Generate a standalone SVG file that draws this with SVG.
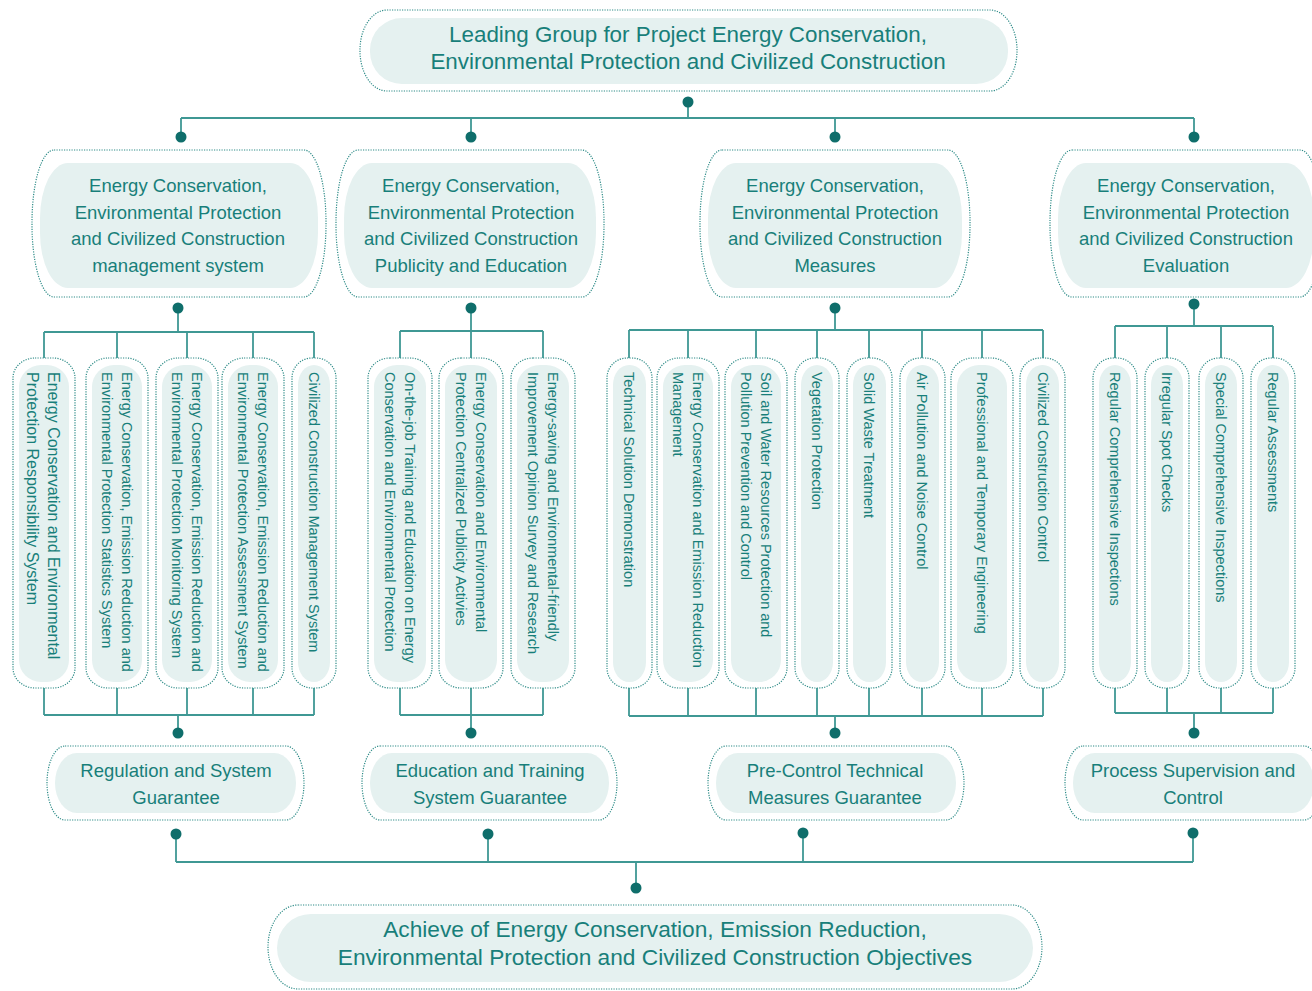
<svg xmlns="http://www.w3.org/2000/svg" width="1312" height="991" viewBox="0 0 1312 991">
<style>
.outer{fill:#ffffff;stroke:#2f8c88;stroke-width:1.2;stroke-dasharray:1.2 1.3}
.inner{fill:#e5f1f0}
.t{font-family:"Liberation Sans",Arial,sans-serif;fill:#187f7a;text-anchor:middle}
.t22{font-size:22.4px}
.t23{font-size:22.7px}
.t18{font-size:18.5px}
.v{font-family:"Liberation Sans",Arial,sans-serif;fill:#187f7a;font-size:14.5px;text-anchor:start}
.vb{font-size:16px}
.ln{stroke:#3f9894;stroke-width:1.8;fill:none}
.dot{fill:#0f6e6b}
</style>
<rect width="1312" height="991" fill="#ffffff"/>

<g id="connectors">
<path class="ln" d="M688 102V118M181 118H1194M181 118V137M471 118V137M835 118V137M1194 118V137"/>
<path class="ln" d="M178 308V332M44 332H314M44 332V358M117 332V358M187 332V358M253 332V358M314 332V358"/>
<path class="ln" d="M44 688V715M117 688V715M187 688V715M253 688V715M314 688V715M44 715H314M178 715V733"/>
<path class="ln" d="M471 308V331M400 331H543M400 331V358M471 331V358M543 331V358"/>
<path class="ln" d="M400 688V715M471 688V715M543 688V715M400 715H543M471 715V733"/>
<path class="ln" d="M835 308V330M629 330H1043M629 330V358M688 330V358M756 330V358M817 330V358M869 330V358M922 330V358M982 330V358M1043 330V358"/>
<path class="ln" d="M629 688V716M688 688V716M756 688V716M817 688V716M869 688V716M922 688V716M982 688V716M1043 688V716M629 716H1043M835 716V733"/>
<path class="ln" d="M1194 304V326M1115 326H1273M1115 326V358M1167 326V358M1221 326V358M1273 326V358"/>
<path class="ln" d="M1115 688V713M1167 688V713M1221 688V713M1273 688V713M1115 713H1273M1194 713V733"/>
<path class="ln" d="M176 834V862M488 834V862M803 833V862M1193 833V862M176 862H1193M636 862V888"/>
<circle class="dot" cx="688" cy="102" r="5.5"/>
<circle class="dot" cx="181" cy="137" r="5.5"/>
<circle class="dot" cx="471" cy="137" r="5.5"/>
<circle class="dot" cx="835" cy="137" r="5.5"/>
<circle class="dot" cx="1194" cy="137" r="5.5"/>
<circle class="dot" cx="178" cy="308" r="5.5"/>
<circle class="dot" cx="471" cy="308" r="5.5"/>
<circle class="dot" cx="835" cy="308" r="5.5"/>
<circle class="dot" cx="1194" cy="304" r="5.5"/>
<circle class="dot" cx="178" cy="733" r="5.5"/>
<circle class="dot" cx="471" cy="733" r="5.5"/>
<circle class="dot" cx="835" cy="733" r="5.5"/>
<circle class="dot" cx="1194" cy="733" r="5.5"/>
<circle class="dot" cx="176" cy="834" r="5.5"/>
<circle class="dot" cx="488" cy="834" r="5.5"/>
<circle class="dot" cx="803" cy="833" r="5.5"/>
<circle class="dot" cx="1193" cy="833" r="5.5"/>
<circle class="dot" cx="636" cy="888" r="5.5"/>
</g>

<g id="leading-group">
<rect class="outer" x="360" y="10" width="657" height="81" rx="27" ry="40"/>
<rect class="inner" x="370" y="18" width="638" height="66" rx="32" ry="32"/>
<text class="t t22" x="688" y="42">Leading Group for Project Energy Conservation,</text>
<text class="t t22" x="688" y="69">Environmental Protection and Civilized Construction</text>
</g>

<g id="management-system">
<rect class="outer" x="32" y="150" width="294" height="147" rx="22" ry="72"/>
<rect class="inner" x="40" y="163" width="278" height="125" rx="28" ry="55"/>
<text class="t t18" x="178" y="192">Energy Conservation,</text>
<text class="t t18" x="178" y="219">Environmental Protection</text>
<text class="t t18" x="178" y="245">and Civilized Construction</text>
<text class="t t18" x="178" y="272">management system</text>
</g>
<g id="publicity-education">
<rect class="outer" x="336" y="150" width="268" height="147" rx="22" ry="72"/>
<rect class="inner" x="344" y="163" width="252" height="125" rx="28" ry="55"/>
<text class="t t18" x="471" y="192">Energy Conservation,</text>
<text class="t t18" x="471" y="219">Environmental Protection</text>
<text class="t t18" x="471" y="245">and Civilized Construction</text>
<text class="t t18" x="471" y="272">Publicity and Education</text>
</g>
<g id="measures">
<rect class="outer" x="700" y="150" width="270" height="147" rx="22" ry="72"/>
<rect class="inner" x="708" y="163" width="254" height="125" rx="28" ry="55"/>
<text class="t t18" x="835" y="192">Energy Conservation,</text>
<text class="t t18" x="835" y="219">Environmental Protection</text>
<text class="t t18" x="835" y="245">and Civilized Construction</text>
<text class="t t18" x="835" y="272">Measures</text>
</g>
<g id="evaluation">
<rect class="outer" x="1050" y="150" width="272" height="147" rx="22" ry="72"/>
<rect class="inner" x="1058" y="163" width="256" height="125" rx="28" ry="55"/>
<text class="t t18" x="1186" y="192">Energy Conservation,</text>
<text class="t t18" x="1186" y="219">Environmental Protection</text>
<text class="t t18" x="1186" y="245">and Civilized Construction</text>
<text class="t t18" x="1186" y="272">Evaluation</text>
</g>

<!-- group A vertical nodes -->
<g id="a1">
<rect class="outer" x="13" y="358" width="62" height="330" rx="22" ry="20"/>
<rect class="inner" x="19" y="365" width="50" height="317" rx="22" ry="22"/>
<text class="v vb" transform="translate(48 372) rotate(90)"><tspan x="0" y="0">Energy Conservation and Environmental</tspan><tspan x="0" y="21">Protection Responsibility System</tspan></text>
</g>
<g id="a2">
<rect class="outer" x="86" y="358" width="62" height="330" rx="22" ry="20"/>
<rect class="inner" x="92" y="365" width="50" height="317" rx="22" ry="22"/>
<text class="v" transform="translate(122 372) rotate(90)"><tspan x="0" y="0">Energy Conservation, Emission Reduction and</tspan><tspan x="0" y="20.5">Environmental Protection Statistics System</tspan></text>
</g>
<g id="a3">
<rect class="outer" x="156" y="358" width="62" height="330" rx="22" ry="20"/>
<rect class="inner" x="162" y="365" width="50" height="317" rx="22" ry="22"/>
<text class="v" transform="translate(192 372) rotate(90)"><tspan x="0" y="0">Energy Conservation, Emission Reduction and</tspan><tspan x="0" y="20.5">Environmental Protection Monitoring System</tspan></text>
</g>
<g id="a4">
<rect class="outer" x="222" y="358" width="62" height="330" rx="22" ry="20"/>
<rect class="inner" x="228" y="365" width="50" height="317" rx="22" ry="22"/>
<text class="v" transform="translate(258 372) rotate(90)"><tspan x="0" y="0">Energy Conservation, Emission Reduction and</tspan><tspan x="0" y="20.5">Environmental Protection Assessment System</tspan></text>
</g>
<g id="a5">
<rect class="outer" x="292" y="358" width="44" height="330" rx="20" ry="20"/>
<rect class="inner" x="298" y="365" width="32" height="317" rx="16" ry="20"/>
<text class="v" transform="translate(309 372) rotate(90)">Civilized Construction Management System</text>
</g>

<!-- group B -->
<g id="b1">
<rect class="outer" x="368" y="358" width="64" height="330" rx="22" ry="20"/>
<rect class="inner" x="374" y="365" width="52" height="317" rx="23" ry="22"/>
<text class="v" transform="translate(405 372) rotate(90)"><tspan x="0" y="0">On-the-job Training and Education on Energy</tspan><tspan x="0" y="20.5">Conservation and Environmental Protection</tspan></text>
</g>
<g id="b2">
<rect class="outer" x="439" y="358" width="64" height="330" rx="22" ry="20"/>
<rect class="inner" x="445" y="365" width="52" height="317" rx="23" ry="22"/>
<text class="v" transform="translate(476 372) rotate(90)"><tspan x="0" y="0">Energy Conservation and Environmental</tspan><tspan x="0" y="20.5">Protection Centralized Publicity Activies</tspan></text>
</g>
<g id="b3">
<rect class="outer" x="511" y="358" width="64" height="330" rx="22" ry="20"/>
<rect class="inner" x="517" y="365" width="52" height="317" rx="23" ry="22"/>
<text class="v" transform="translate(548 372) rotate(90)"><tspan x="0" y="0">Energy-saving and Environmental-friendly</tspan><tspan x="0" y="20.5">Improvement Opinion Survey and Research</tspan></text>
</g>

<!-- group C -->
<g id="c1">
<rect class="outer" x="607" y="358" width="45" height="330" rx="20" ry="20"/>
<rect class="inner" x="613" y="365" width="33" height="317" rx="16" ry="20"/>
<text class="v" transform="translate(624 372) rotate(90)">Technical Solution Demonstration</text>
</g>
<g id="c2">
<rect class="outer" x="657" y="358" width="62" height="330" rx="22" ry="20"/>
<rect class="inner" x="663" y="365" width="50" height="317" rx="22" ry="22"/>
<text class="v" transform="translate(693 372) rotate(90)"><tspan x="0" y="0">Energy Conservation and Emission Reduction</tspan><tspan x="0" y="20.5">Management</tspan></text>
</g>
<g id="c3">
<rect class="outer" x="725" y="358" width="62" height="330" rx="22" ry="20"/>
<rect class="inner" x="731" y="365" width="50" height="317" rx="22" ry="22"/>
<text class="v" transform="translate(761 372) rotate(90)"><tspan x="0" y="0">Soil and Water Resources Protection and</tspan><tspan x="0" y="20.5">Pollution Prevention and Control</tspan></text>
</g>
<g id="c4">
<rect class="outer" x="795" y="358" width="44" height="330" rx="20" ry="20"/>
<rect class="inner" x="801" y="365" width="32" height="317" rx="16" ry="20"/>
<text class="v" transform="translate(812 372) rotate(90)">Vegetation Protection</text>
</g>
<g id="c5">
<rect class="outer" x="847" y="358" width="45" height="330" rx="20" ry="20"/>
<rect class="inner" x="853" y="365" width="33" height="317" rx="16" ry="20"/>
<text class="v" transform="translate(864 372) rotate(90)">Solid Waste Treatment</text>
</g>
<g id="c6">
<rect class="outer" x="900" y="358" width="45" height="330" rx="20" ry="20"/>
<rect class="inner" x="906" y="365" width="33" height="317" rx="16" ry="20"/>
<text class="v" transform="translate(917 372) rotate(90)">Air Pollution and Noise Control</text>
</g>
<g id="c7">
<rect class="outer" x="951" y="358" width="62" height="330" rx="22" ry="20"/>
<rect class="inner" x="957" y="365" width="50" height="317" rx="22" ry="22"/>
<text class="v" transform="translate(977 372) rotate(90)">Professional and Temporary Engineering</text>
</g>
<g id="c8">
<rect class="outer" x="1020" y="358" width="45" height="330" rx="20" ry="20"/>
<rect class="inner" x="1026" y="365" width="33" height="317" rx="16" ry="20"/>
<text class="v" transform="translate(1038 372) rotate(90)">Civilized Construction Control</text>
</g>

<!-- group D -->
<g id="d1">
<rect class="outer" x="1093" y="358" width="44" height="330" rx="20" ry="20"/>
<rect class="inner" x="1099" y="365" width="32" height="317" rx="16" ry="20"/>
<text class="v" transform="translate(1110 372) rotate(90)">Regular Comprehensive Inspections</text>
</g>
<g id="d2">
<rect class="outer" x="1145" y="358" width="44" height="330" rx="20" ry="20"/>
<rect class="inner" x="1151" y="365" width="32" height="317" rx="16" ry="20"/>
<text class="v" transform="translate(1162 372) rotate(90)">Irregular Spot Checks</text>
</g>
<g id="d3">
<rect class="outer" x="1199" y="358" width="44" height="330" rx="20" ry="20"/>
<rect class="inner" x="1205" y="365" width="32" height="317" rx="16" ry="20"/>
<text class="v" transform="translate(1216 372) rotate(90)">Special Comprehensive Inspections</text>
</g>
<g id="d4">
<rect class="outer" x="1251" y="358" width="44" height="330" rx="20" ry="20"/>
<rect class="inner" x="1257" y="365" width="32" height="317" rx="16" ry="20"/>
<text class="v" transform="translate(1268 372) rotate(90)">Regular Assessments</text>
</g>

<!-- guarantee level -->
<g id="regulation-guarantee">
<rect class="outer" x="47" y="746" width="257" height="74" rx="18" ry="37"/>
<rect class="inner" x="55" y="753" width="241" height="60" rx="22" ry="30"/>
<text class="t t18" x="176" y="777">Regulation and System</text>
<text class="t t18" x="176" y="804">Guarantee</text>
</g>
<g id="education-guarantee">
<rect class="outer" x="362" y="746" width="255" height="74" rx="18" ry="37"/>
<rect class="inner" x="370" y="753" width="239" height="60" rx="22" ry="30"/>
<text class="t t18" x="490" y="777">Education and Training</text>
<text class="t t18" x="490" y="804">System Guarantee</text>
</g>
<g id="precontrol-guarantee">
<rect class="outer" x="708" y="746" width="256" height="74" rx="18" ry="37"/>
<rect class="inner" x="716" y="753" width="240" height="60" rx="22" ry="30"/>
<text class="t t18" x="835" y="777">Pre-Control Technical</text>
<text class="t t18" x="835" y="804">Measures Guarantee</text>
</g>
<g id="process-supervision">
<rect class="outer" x="1065" y="746" width="257" height="74" rx="18" ry="37"/>
<rect class="inner" x="1073" y="753" width="241" height="60" rx="22" ry="30"/>
<text class="t t18" x="1193" y="777">Process Supervision and</text>
<text class="t t18" x="1193" y="804">Control</text>
</g>

<g id="objectives">
<rect class="outer" x="268" y="905" width="774" height="84" rx="30" ry="42"/>
<rect class="inner" x="277" y="914" width="756" height="68" rx="34" ry="34"/>
<text class="t t23" x="655" y="937">Achieve of Energy Conservation, Emission Reduction,</text>
<text class="t t23" x="655" y="965">Environmental Protection and Civilized Construction Objectives</text>
</g>
</svg>
